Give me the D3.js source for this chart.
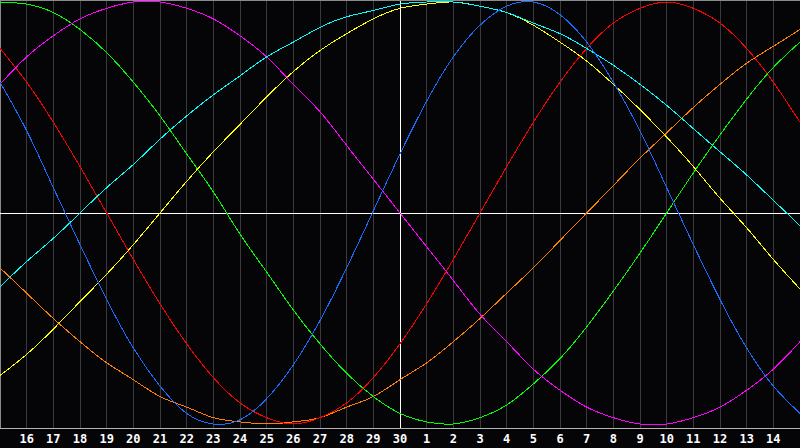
<!DOCTYPE html>
<html>
<head>
<meta charset="utf-8">
<script src="https://cdn.jsdelivr.net/npm/d3@7/dist/d3.min.js"></script>
<style>
  html, body { margin: 0; padding: 0; background: #050508; }
  svg { display: block; }
</style>
</head>
<body>
<svg id="chart" width="800" height="448"></svg>
<script>
// Day labels for grid positions 1..29 (position 0 = day 15 at the left edge)
const dayLabels = ["16","17","18","19","20","21","22","23","24","25","26","27","28","29","30",
                   "1","2","3","4","5","6","7","8","9","10","11","12","13","14"];

// Series values (percent, -100..100) read at each grid position 0..30
const physical     = [62,39,12,-15,-41,-64,-82,-95,-100,-98,-88,-72,-51,-26,1,28,53,74,89,98,100,94,81,62,39,12,-15,-41,-64,-82,-95];
const emotional    = [78,62,43,22,0,-22,-43,-62,-78,-90,-97,-100,-97,-90,-78,-62,-43,-22,0,22,43,62,78,90,97,100,97,90,78,62,43];
const intellectual = [100,99,95,87,76,62,46,28,10,-10,-28,-46,-62,-76,-87,-95,-99,-100,-97,-91,-81,-69,-54,-37,-19,0,19,37,54,69,81];
const intuitive    = [61,74,84,92,97,100,100,97,92,84,74,61,48,32,16,0,-16,-32,-48,-61,-74,-84,-92,-97,-100,-100,-97,-92,-84,-74,-61];
const spiritual    = [-35,-23,-12,0,12,23,35,46,56,65,74,81,88,93,96,99,100,100,98,95,90,85,78,70,61,51,40,29,18,6,-6];
const aesthetic    = [-77,-67,-55,-42,-29,-15,0,15,29,42,55,67,77,85,92,97,99,100,98,95,89,81,72,61,49,36,22,7,-7,-22,-36];
const awareness    = [-26,-38,-50,-61,-71,-79,-87,-92,-97,-99,-100,-99,-97,-92,-87,-79,-71,-61,-50,-38,-26,-13,0,13,26,38,50,61,71,79,87];

const seriesList = [
  { name: "awareness",    values: awareness,    color: "#ff8000" },
  { name: "emotional",    values: emotional,    color: "#ff0000" },
  { name: "intellectual", values: intellectual, color: "#00ff00" },
  { name: "intuitive",    values: intuitive,    color: "#ff00ff" },
  { name: "aesthetic",    values: aesthetic,    color: "#ffff00" },
  { name: "spiritual",    values: spiritual,    color: "#00ffff" },
  { name: "physical",     values: physical,     color: "#1a6cff" }
];

const W = 800, plotBottom = 428;
const svg = d3.select("#chart");

const x = d3.scaleLinear().domain([0, 30]).range([0, W]);
const y = d3.scaleLinear().domain([-100, 100]).range([424, 2]);

// background
svg.append("rect").attr("width", W).attr("height", 448).attr("fill", "#050508");

// vertical grid
const gridIdx = d3.range(1, 30);
svg.append("g").selectAll("line").data(gridIdx).join("line")
  .attr("x1", d => Math.floor(x(d)) + 0.5).attr("x2", d => Math.floor(x(d)) + 0.5)
  .attr("y1", 0).attr("y2", plotBottom)
  .attr("stroke", d => d === 15 ? "#ffffff" : "#3a3a3e")
  .attr("stroke-width", 1)
  .attr("shape-rendering", "crispEdges");

// borders
svg.append("line").attr("x1", 0).attr("x2", W).attr("y1", 0.5).attr("y2", 0.5)
  .attr("stroke", "#8a8a8a").attr("shape-rendering", "crispEdges");
svg.append("line").attr("x1", 0.5).attr("x2", 0.5).attr("y1", 0).attr("y2", plotBottom)
  .attr("stroke", "#8a8a8a").attr("shape-rendering", "crispEdges");
svg.append("line").attr("x1", 0).attr("x2", W).attr("y1", plotBottom + 0.5).attr("y2", plotBottom + 0.5)
  .attr("stroke", "#b4b4b4").attr("shape-rendering", "crispEdges");

// horizontal zero line
svg.append("line").attr("x1", 0).attr("x2", W)
  .attr("y1", Math.floor(y(0)) + 0.5).attr("y2", Math.floor(y(0)) + 0.5)
  .attr("stroke", "#ffffff").attr("shape-rendering", "crispEdges");

// curves
const line = d3.line()
  .x((d, i) => x(i))
  .y(d => y(d))
  .curve(d3.curveNatural);

svg.append("g").selectAll("path").data(seriesList).join("path")
  .attr("d", s => line(s.values))
  .attr("fill", "none")
  .attr("stroke", s => s.color)
  .attr("stroke-width", 1)
  .attr("shape-rendering", "crispEdges");

// day labels
svg.append("g").selectAll("text").data(gridIdx).join("text")
  .attr("x", d => x(d))
  .attr("y", 443)
  .attr("text-anchor", "middle")
  .attr("fill", "#ffffff")
  .attr("font-family", "'DejaVu Sans Mono', monospace")
  .attr("font-weight", "bold")
  .attr("font-size", 12)
  .text(d => dayLabels[d - 1]);
</script>
</body>
</html>
